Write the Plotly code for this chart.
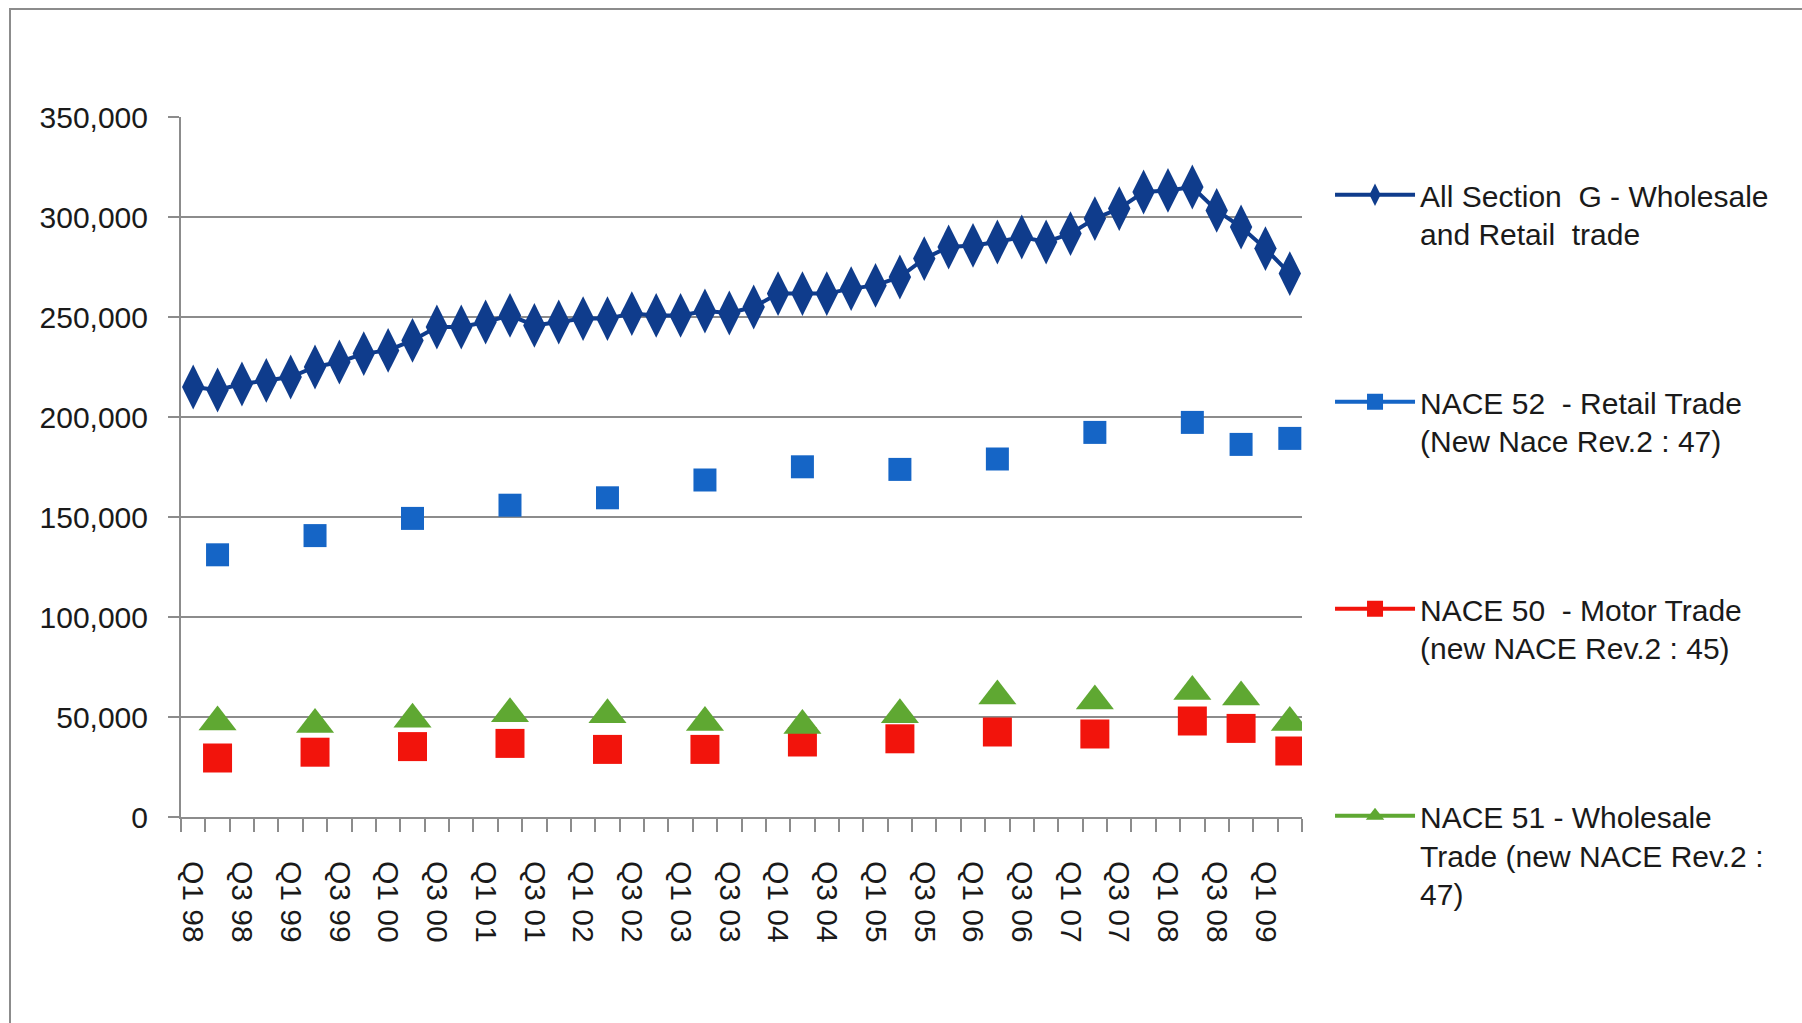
import plotly.graph_objects as go

# Quarterly categories, Q1 1998 to Q2 2009
quarters = [
    "Q1 98", "Q2 98", "Q3 98", "Q4 98", "Q1 99", "Q2 99", "Q3 99", "Q4 99",
    "Q1 00", "Q2 00", "Q3 00", "Q4 00", "Q1 01", "Q2 01", "Q3 01", "Q4 01",
    "Q1 02", "Q2 02", "Q3 02", "Q4 02", "Q1 03", "Q2 03", "Q3 03", "Q4 03",
    "Q1 04", "Q2 04", "Q3 04", "Q4 04", "Q1 05", "Q2 05", "Q3 05", "Q4 05",
    "Q1 06", "Q2 06", "Q3 06", "Q4 06", "Q1 07", "Q2 07", "Q3 07", "Q4 07",
    "Q1 08", "Q2 08", "Q3 08", "Q4 08", "Q1 09", "Q2 09",
]

# All Section G - persons engaged, every quarter
section_g = [
    215000, 213500, 216500, 218300, 220000, 225000, 227500, 231700,
    233300, 238300, 245000, 245000, 247500, 250800, 245800, 247500,
    249200, 249200, 251700, 250800, 250800, 253000, 252000, 255000,
    261700, 261700, 261700, 264200, 265800, 270000, 279200, 285000,
    285800, 287500, 290000, 287500, 291700, 299200, 304200, 312500,
    313300, 315000, 303300, 295000, 284200, 271700,
]

# Sub-sectors are only available for these quarters
survey_quarters = [
    "Q2 98", "Q2 99", "Q2 00", "Q2 01", "Q2 02", "Q2 03", "Q2 04",
    "Q2 05", "Q2 06", "Q2 07", "Q2 08", "Q4 08", "Q2 09",
]
retail_52 = [131100, 140700, 149300, 155900, 159600, 168500, 175100,
             173800, 179000, 192300, 197300, 186300, 189300]
motor_50 = [29500, 32400, 35200, 36800, 33800, 33800, 37500,
            39100, 42500, 41500, 48000, 44300, 33000]
wholesale_51 = [47500, 46300, 48900, 51600, 51100, 47300, 45700,
                51100, 60500, 58000, 62800, 60000, 47300]

y_ticks = [0, 50000, 100000, 150000, 200000, 250000, 300000, 350000]

FONT = "Liberation Sans"
GREY = "#8c8c8c"
TEXT = "#1a1a1a"


def on_all_quarters(values):
    """Spread sparse survey values over the full quarter list (gaps = None)."""
    lookup = dict(zip(survey_quarters, values))
    return [lookup.get(q) for q in quarters]


series = [
    dict(name="All Section  G - Wholesale<br>and Retail  trade",
         y=section_g, color="#0f3c8c", symbol="diamond-tall", size=32),
    dict(name="NACE 52  - Retail Trade<br>(New Nace Rev.2 : 47)",
         y=on_all_quarters(retail_52), color="#1565c6", symbol="square", size=23),
    dict(name="NACE 50  - Motor Trade<br>(new NACE Rev.2 : 45)",
         y=on_all_quarters(motor_50), color="#f2140c", symbol="square", size=29),
    dict(name="NACE 51 - Wholesale<br>Trade (new NACE Rev.2 :<br>47)",
         y=on_all_quarters(wholesale_51), color="#5fa832", symbol="triangle-up", size=33),
]

fig = go.Figure()
for i, s in enumerate(series):
    fig.add_trace(go.Scatter(
        x=quarters, y=s["y"], name=s["name"], legendgroup=f"g{i}",
        mode="lines+markers", connectgaps=False,
        line=dict(color=s["color"], width=4),
        marker=dict(color=s["color"], symbol=s["symbol"], size=s["size"],
                    line=dict(width=0)),
        hoverinfo="skip",
    ))

tick_text = [q if i % 2 == 0 else "" for i, q in enumerate(quarters)]

fig.update_layout(
    width=1802, height=1023, autosize=False,
    margin=dict(l=181, r=500, t=117, b=206),
    paper_bgcolor="white", plot_bgcolor="white",
    font=dict(family=FONT, size=30, color=TEXT),
    showlegend=True,
    legend=dict(
        x=1.025, xanchor="left", y=0.926, yanchor="top",
        font=dict(family=FONT, size=30, color=TEXT),
        valign="top", tracegroupgap=126, itemwidth=80,
        maxheight=1000, bgcolor="rgba(0,0,0,0)",
    ),
    xaxis=dict(
        type="category", categoryorder="array", categoryarray=quarters,
        range=[-0.5, len(quarters) - 0.5],
        tickmode="array", tickvals=quarters, ticktext=tick_text,
        tickson="boundaries", ticks="outside", ticklen=13, tickwidth=2,
        tickcolor=GREY, tickangle=90, ticklabelstandoff=36,
        showline=True, linecolor=GREY, linewidth=2,
        showgrid=False, zeroline=False,
        tickfont=dict(family=FONT, size=30, color=TEXT),
    ),
    yaxis=dict(
        range=[0, 350000], tickmode="array", tickvals=y_ticks,
        tickformat=",", ticks="outside", ticklen=11, tickwidth=2,
        tickcolor=GREY, showline=True, linecolor=GREY, linewidth=2,
        showgrid=True, gridcolor=GREY, gridwidth=2, zeroline=False,
        ticklabelstandoff=14,
        tickfont=dict(family=FONT, size=30, color=TEXT),
    ),
    shapes=[dict(
        type="rect", xref="paper", yref="paper",
        x0=(10 - 181) / 1121, x1=(1810 - 181) / 1121,
        y0=(817 - 1030) / 700, y1=(817 - 9) / 700,
        line=dict(color=GREY, width=2), fillcolor="rgba(0,0,0,0)", layer="below",
    )],
)

fig.write_html("out.html")
